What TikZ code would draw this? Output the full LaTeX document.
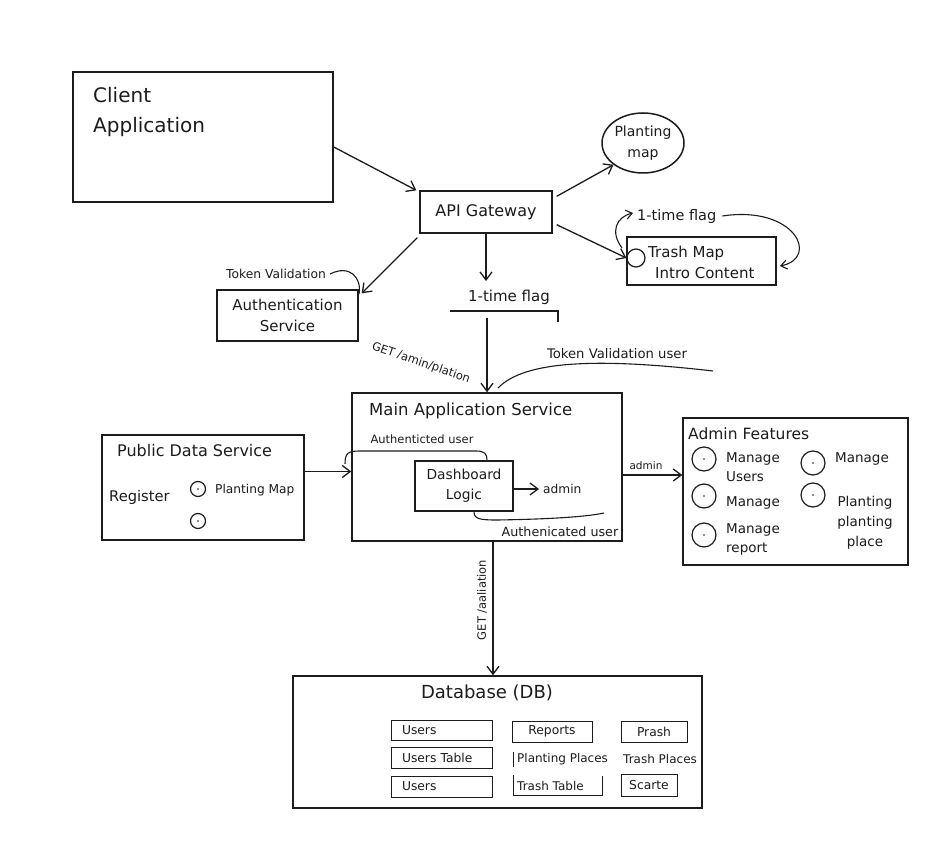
\documentclass[tikz,border=0pt]{standalone}
\usepackage{fontspec}
\setmainfont{DejaVu Sans}
\usetikzlibrary{arrows.meta,shapes.geometric}
\definecolor{ink}{HTML}{1C1C1C}
\begin{document}
\begin{tikzpicture}[x=1pt,y=-1pt,
  every node/.style={text=ink, inner sep=0pt},
  f/.style 2 args={font=\fontsize{#1}{#2}\selectfont},
  box/.style={draw=ink, line width=1.4pt},
  arr/.style={draw=ink, line width=1.3pt, -{Straight Barb[length=8pt,width=12pt,line width=1.3pt]}},
  crv/.style={draw=ink, line width=1.1pt},
  ring/.style={circle, draw=ink, line width=1.2pt, minimum size=#1},
  tbox/.style={draw=ink, line width=1pt, minimum height=20pt, text width=#1, align=left, inner xsep=11pt, inner ysep=0pt, f={12.3}{14}},
  cbox/.style={draw=ink, line width=1pt, minimum height=21pt, minimum width=#1, f={12.3}{14}},
  thin/.style={draw=ink, line width=1pt}
]
\useasboundingbox (0,0) rectangle (950,861);
\fill[white] (0,0) rectangle (950,861);

% Client Application
\node[box, minimum width=260pt, minimum height=130pt] (client) at (203,137) {};
\node[f={20}{30}, anchor=north west, align=left] (clientT) at (93,87) {Client\\Application};

% API Gateway
\node[box, minimum width=132pt, minimum height=42pt, f={16}{19}] (api) at (486,212) {API Gateway};

% Planting map
\node[ellipse, draw=ink, line width=1.5pt, minimum width=82pt, minimum height=60pt, align=center, f={14}{21}] (pmap) at (643,143) {Planting\\map};

% Trash Map Intro Content
\node[box, minimum width=149pt, minimum height=48pt] (trash) at (701.5,261) {};
\node[ring=18pt] (tcirc) at (636,258) {};
\node[f={15}{18}, anchor=west] (trashA) at (648,253) {Trash Map};
\node[f={15}{18}, anchor=west] (trashB) at (655,273) {Intro Content};
\node[f={14.5}{17}, anchor=west] (flagT) at (637,216) {1-time flag};
\coordinate (tl1) at (622,248);
\coordinate (tl2) at (633,213);
\draw[crv, -{Straight Barb[length=6pt,width=9pt,line width=1.1pt]}] (tl1) .. controls (610,232) and (616,217) .. (tl2);
\coordinate (tr2) at (780,266);
\draw[crv, -{Straight Barb[length=6pt,width=9pt,line width=1.1pt]}] ([xshift=6pt]flagT.east) .. controls (795,205) and (820,258) .. (tr2);

% Authentication Service
\node[box, minimum width=141pt, minimum height=51pt, align=center, f={15}{21}] (auth) at (287.5,315.5) {Authentication\\Service};
\node[f={12.3}{14}] (tv) at (276,274) {Token Validation};
\draw[crv] ([xshift=4pt]tv.east) .. controls (350,264) and (362,278) .. (359,294);

% arrows from gateway
\draw[arr] ([yshift=-10pt]client.east) -- ([xshift=-3pt]api.north west);
\draw[arr] ([xshift=4pt,yshift=-6pt]api.north east) -- (pmap.south west);
\draw[arr] ([xshift=4pt,yshift=9pt]api.south east) -- (tcirc.west);
\draw[arr] ([xshift=-2pt,yshift=-4pt]api.south west) -- ([xshift=3pt,yshift=-4pt]auth.north east);

% 1-time flag (middle)
\node[f={15}{18}] (flag1) at (509,297) {1-time flag};
\draw[arr] (api.south) -- (api.south |- 0,281);
\coordinate (ul1) at (450,311);
\coordinate (ul2) at (558,311);
\coordinate (ul3) at (558,322);
\draw[crv] (ul1) -- (ul2) -- (ul3);
\coordinate (ulmid) at (487,318);

% Main Application Service
\node[box, minimum width=270pt, minimum height=148pt] (main) at (487,467) {};
\node[f={16.5}{20}, anchor=west] (mainT) at (369,411) {Main Application Service};
\draw[arr] (ulmid) -- (ulmid |- main.north);

\node[f={11.5}{13}, rotate=-19] (getA) at (421,363) {GET /amin/plation};
\node[f={13.2}{15}] (tvu) at (617,354) {Token Validation user};
\coordinate (tvu1) at (498,388);
\coordinate (tvu2) at (713,371);
\draw[crv] (tvu1) .. controls (525,360) and (600,358) .. (tvu2);

% Dashboard logic
\node[box, minimum width=98pt, minimum height=50pt, align=center, f={13.8}{20}] (dash) at (464,486) {Dashboard\\Logic};
\node[f={12.2}{14}, anchor=west] (adm1) at (543,489) {admin};
\draw[arr] ([yshift=-3pt]dash.east) -- ([yshift=-3pt,xshift=-4pt]dash.east -| adm1.west);
\node[f={11.5}{14}] (authu1) at (422,439) {Authenticted user};
\coordinate (au1) at (345,464);
\draw[crv] (au1) .. controls (345,453) and (348,451) .. (360,451) -- (476,451) .. controls (485,451) and (487,454) .. ([xshift=23pt]dash.north);
\node[f={12.7}{15}] (authu2) at (560,532) {Authenicated user};
\coordinate (au2) at (604,513);
\draw[crv] ([xshift=10pt]dash.south) .. controls (474,519) and (480,520) .. (497,520) .. controls (560,519) and (590,516) .. (au2);

% Public Data Service
\node[box, minimum width=202pt, minimum height=105pt] (pub) at (203,487.5) {};
\node[f={16}{19}, anchor=west] (pubT) at (117,451) {Public Data Service};
\node[f={14.7}{17}, anchor=west] (reg) at (109,497) {Register};
\node[ring=15pt] (pc1) at (198,489) {};
\node[ring=15pt] (pc2) at (198,521) {};
\fill[ink] (pc1) circle (0.9pt);
\fill[ink] (pc2) circle (0.9pt);
\node[f={12.2}{14}, anchor=west] (pmt) at (215,490) {Planting Map};
\draw[arr] ([yshift=16pt]pub.east) -- ([yshift=16pt]pub.east -| main.west);

% Admin Features
\node[box, minimum width=225pt, minimum height=147pt] (admin) at (795.5,491.5) {};
\draw[arr] ([yshift=-8pt]main.east) -- ([yshift=-8pt]main.east -| admin.west);
\node[f={10.5}{12}] (admlbl) at (646,466) {admin};
\node[f={15.5}{18}, anchor=west] (admT) at (688,434) {Admin Features};
\node[ring=24pt] (ac1) at (704,459) {};
\node[ring=24pt] (ac2) at (704,496) {};
\node[ring=24pt] (ac3) at (704,535) {};
\node[ring=24pt] (ac4) at (813,463) {};
\node[ring=24pt] (ac5) at (813,495) {};
\foreach \c in {ac1,ac2,ac3,ac4,ac5} {\fill[ink] (\c) circle (0.9pt);}
\node[f={13.5}{19}, anchor=west, align=left] (at1) at (726,467.5) {Manage\\Users};
\node[f={13.5}{19}, anchor=west] (at2) at (726,503) {Manage};
\node[f={13.5}{19}, anchor=west, align=left] (at3) at (726,539) {Manage\\report};
\node[f={13.5}{19}, anchor=west] (at4) at (835,459) {Manage};
\node[f={13.5}{20}, align=center] (at5) at (865,523) {Planting\\planting\\place};

% Database
\node[box, minimum width=409pt, minimum height=132pt] (db) at (497.5,742) {};
\draw[arr] ([xshift=6pt]main.south) -- ([xshift=6pt]main.south |- db.north);
\node[f={11.5}{13}, rotate=90] (getB) at (482,600) {GET /aaliation};
\node[f={18}{22}] (dbT) at (487,693) {Database (DB)};

\node[tbox=79pt] (u1) at (441.5,730) {Users};
\node[tbox=79pt, minimum height=21pt] (u2) at (441.5,757.5) {Users Table};
\node[tbox=79pt, minimum height=21pt] (u3) at (441.5,786.5) {Users};
\node[cbox=80pt] (rep) at (552,731.5) {Reports};
\node[f={12}{14}, anchor=west] (pp) at (517,759) {Planting Places};
\draw[thin] (513,752) -- (513,767);
\node[f={12}{14}, anchor=west] (ttab) at (517,786) {Trash Table};
\draw[thin] (513,775) |- (602,795) -- (602,776);
\node[cbox=66pt] (prash) at (654,731.5) {Prash};
\node[f={12}{14}, anchor=west] (tp) at (623,759) {Trash Places};
\node[cbox=56pt, minimum height=22pt] (scarte) at (649,785) {Scarte};
\end{tikzpicture}
\end{document}
